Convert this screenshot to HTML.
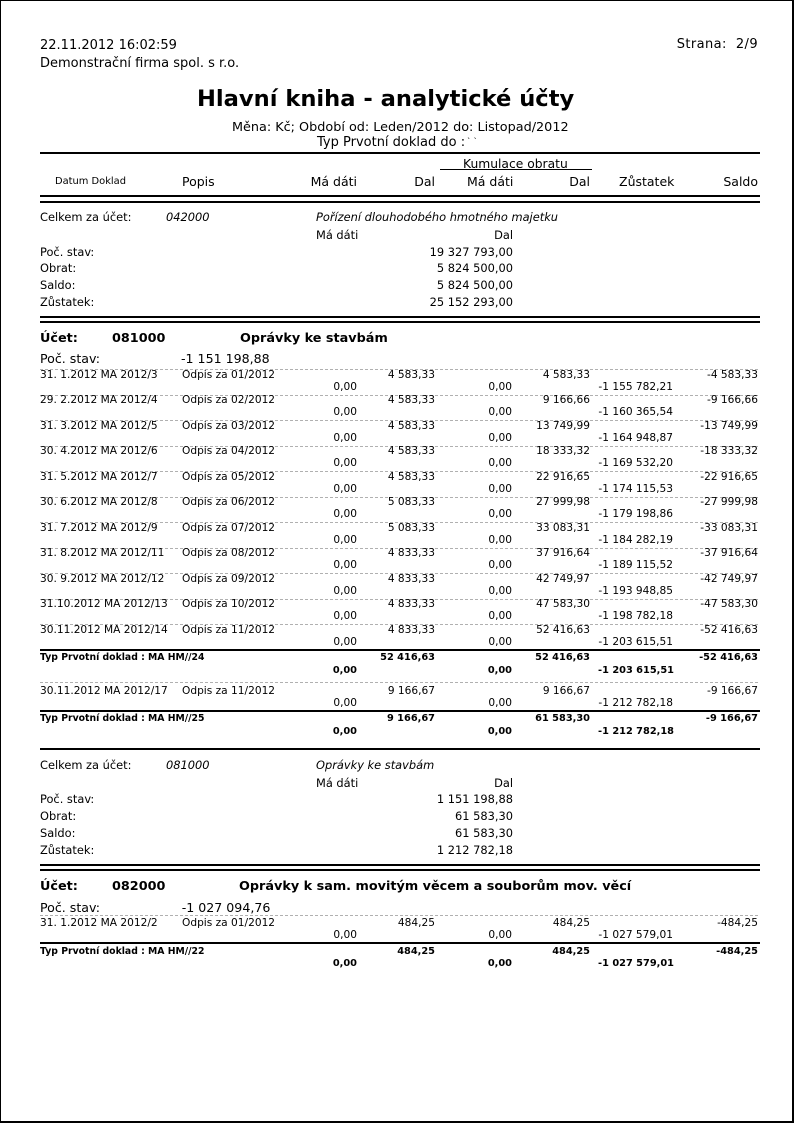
<!DOCTYPE html>
<html><head><meta charset="utf-8">
<style>
*{margin:0;padding:0;box-sizing:border-box}
html,body{width:794px;height:1123px;background:#fff;overflow:hidden}
body{position:relative;font-family:"DejaVu Sans","Liberation Sans",sans-serif;color:#000}
.frame{position:absolute;left:0;top:0;width:794px;height:1123px;border-left:1px solid #000;border-top:1px solid #000;border-right:2px solid #000;border-bottom:2px solid #000}
.a{position:absolute;white-space:pre}
.h13{font-size:13px;line-height:16px;height:16px}
.tt{font-size:22.6px;font-weight:bold;line-height:28px;height:28px}
.hd{font-size:12.5px;line-height:15px;height:15px}
.sm{font-size:11.4px;line-height:14px;height:14px}
.it{font-style:italic}
.ac{font-size:12.8px;font-weight:bold;line-height:16px;height:16px}
.ps{font-size:12.6px;line-height:16px;height:16px}
.hl{position:absolute;left:40px;width:720px;height:2px;background:#000}
.dl{position:absolute;left:40px;width:720px;height:1px;background:repeating-linear-gradient(to right,#b0b0b0 0 3px,transparent 3px 5px)}
.row{position:absolute;left:0;width:794px;height:26px}
.row .a{font-size:10.6px;line-height:13px;height:13px}
.row .l2{top:12.3px}
.row .l1{top:0}
.trow{position:absolute;left:0;width:794px;height:26px}
.trow .a{font-size:9.8px;font-weight:bold;line-height:12px;height:12px}
.trow .lbl{font-size:9.3px}
.trow .l2{top:12.5px}
.trow .l1{top:0}
</style></head><body>
<div class="frame"></div>

<div class="a h13" style="left:40px;top:37.5px">22.11.2012 16:02:59</div>
<div class="a h13" style="left:40px;top:56.3px">Demonstrační firma spol. s r.o.</div>
<div class="a h13" style="right:36px;top:37px;letter-spacing:0.4px">Strana:  2/9</div>
<div class="a tt" style="left:197px;top:85px">Hlavní kniha - analytické účty</div>
<div class="a h13" style="left:232px;top:120px;font-size:12.8px">Měna: Kč; Období od: Leden/2012 do: Listopad/2012</div>
<div class="a h13" style="left:317px;top:135px">Typ Prvotní doklad do :</div>
<div class="a" style="left:467px;top:137px;font-size:8px;line-height:9px">` `</div>

<div class="hl" style="top:152px"></div>
<div class="a" style="left:463px;top:156.5px;font-size:12.3px;line-height:15px">Kumulace obratu</div>
<div style="position:absolute;left:440px;top:169px;width:152px;height:1px;background:#000"></div>
<div class="a" style="left:55px;top:176px;font-size:9.9px;line-height:12px">Datum Doklad</div>
<div class="a hd" style="left:182px;top:174.2px">Popis</div>
<div class="a hd" style="right:437px;top:174.2px">Má dáti</div>
<div class="a hd" style="right:359px;top:174.2px">Dal</div>
<div class="a hd" style="left:467px;top:174.2px">Má dáti</div>
<div class="a hd" style="right:204px;top:174.2px">Dal</div>
<div class="a hd" style="left:619px;top:174.2px">Zůstatek</div>
<div class="a hd" style="right:36px;top:174.2px">Saldo</div>
<div class="hl" style="top:195px"></div>
<div class="hl" style="top:201px"></div>

<!-- Celkem 042000 -->
<div class="a sm" style="left:40px;top:210px">Celkem za účet:</div>
<div class="a sm it" style="left:166px;top:210px">042000</div>
<div class="a sm it" style="left:316px;top:210px">Pořízení dlouhodobého hmotného majetku</div>
<div class="a sm" style="left:316px;top:228px">Má dáti</div>
<div class="a sm" style="right:281px;top:228px">Dal</div>
<div class="a sm" style="left:40px;top:244.7px">Poč. stav:</div>
<div class="a sm" style="right:281px;top:244.7px">19 327 793,00</div>
<div class="a sm" style="left:40px;top:261.3px">Obrat:</div>
<div class="a sm" style="right:281px;top:261.3px">5 824 500,00</div>
<div class="a sm" style="left:40px;top:278px">Saldo:</div>
<div class="a sm" style="right:281px;top:278px">5 824 500,00</div>
<div class="a sm" style="left:40px;top:294.5px">Zůstatek:</div>
<div class="a sm" style="right:281px;top:294.5px">25 152 293,00</div>
<div class="hl" style="top:316px"></div>
<div class="hl" style="top:321px"></div>

<!-- Account 081000 -->
<div class="a ac" style="left:40px;top:331.3px">Účet:</div>
<div class="a ac" style="left:112px;top:331.3px">081000</div>
<div class="a ac" style="left:240px;top:331.3px">Oprávky ke stavbám</div>
<div class="a ps" style="left:40px;top:351.3px">Poč. stav:</div>
<div class="a ps" style="left:181px;top:351.3px">-1 151 198,88</div>

<div class="dl" style="top:369px"></div>
<div class="dl" style="top:395px"></div>
<div class="dl" style="top:420px"></div>
<div class="dl" style="top:446px"></div>
<div class="dl" style="top:471px"></div>
<div class="dl" style="top:497px"></div>
<div class="dl" style="top:522px"></div>
<div class="dl" style="top:548px"></div>
<div class="dl" style="top:573px"></div>
<div class="dl" style="top:599px"></div>
<div class="dl" style="top:624px"></div>

<div class="row" style="top:368.5px">
<div class="a l1" style="left:40px">31. 1.2012 MA 2012/3</div><div class="a l1" style="left:182px">Odpis za 01/2012</div>
<div class="a l1" style="right:359px">4 583,33</div><div class="a l1" style="right:204px">4 583,33</div><div class="a l1" style="right:36px">-4 583,33</div>
<div class="a l2" style="right:437px">0,00</div><div class="a l2" style="right:282px">0,00</div><div class="a l2" style="right:121px">-1 155 782,21</div>
</div>
<div class="row" style="top:394px">
<div class="a l1" style="left:40px">29. 2.2012 MA 2012/4</div><div class="a l1" style="left:182px">Odpis za 02/2012</div>
<div class="a l1" style="right:359px">4 583,33</div><div class="a l1" style="right:204px">9 166,66</div><div class="a l1" style="right:36px">-9 166,66</div>
<div class="a l2" style="right:437px">0,00</div><div class="a l2" style="right:282px">0,00</div><div class="a l2" style="right:121px">-1 160 365,54</div>
</div>
<div class="row" style="top:419.5px">
<div class="a l1" style="left:40px">31. 3.2012 MA 2012/5</div><div class="a l1" style="left:182px">Odpis za 03/2012</div>
<div class="a l1" style="right:359px">4 583,33</div><div class="a l1" style="right:204px">13 749,99</div><div class="a l1" style="right:36px">-13 749,99</div>
<div class="a l2" style="right:437px">0,00</div><div class="a l2" style="right:282px">0,00</div><div class="a l2" style="right:121px">-1 164 948,87</div>
</div>
<div class="row" style="top:445px">
<div class="a l1" style="left:40px">30. 4.2012 MA 2012/6</div><div class="a l1" style="left:182px">Odpis za 04/2012</div>
<div class="a l1" style="right:359px">4 583,33</div><div class="a l1" style="right:204px">18 333,32</div><div class="a l1" style="right:36px">-18 333,32</div>
<div class="a l2" style="right:437px">0,00</div><div class="a l2" style="right:282px">0,00</div><div class="a l2" style="right:121px">-1 169 532,20</div>
</div>
<div class="row" style="top:470.5px">
<div class="a l1" style="left:40px">31. 5.2012 MA 2012/7</div><div class="a l1" style="left:182px">Odpis za 05/2012</div>
<div class="a l1" style="right:359px">4 583,33</div><div class="a l1" style="right:204px">22 916,65</div><div class="a l1" style="right:36px">-22 916,65</div>
<div class="a l2" style="right:437px">0,00</div><div class="a l2" style="right:282px">0,00</div><div class="a l2" style="right:121px">-1 174 115,53</div>
</div>
<div class="row" style="top:496px">
<div class="a l1" style="left:40px">30. 6.2012 MA 2012/8</div><div class="a l1" style="left:182px">Odpis za 06/2012</div>
<div class="a l1" style="right:359px">5 083,33</div><div class="a l1" style="right:204px">27 999,98</div><div class="a l1" style="right:36px">-27 999,98</div>
<div class="a l2" style="right:437px">0,00</div><div class="a l2" style="right:282px">0,00</div><div class="a l2" style="right:121px">-1 179 198,86</div>
</div>
<div class="row" style="top:521.5px">
<div class="a l1" style="left:40px">31. 7.2012 MA 2012/9</div><div class="a l1" style="left:182px">Odpis za 07/2012</div>
<div class="a l1" style="right:359px">5 083,33</div><div class="a l1" style="right:204px">33 083,31</div><div class="a l1" style="right:36px">-33 083,31</div>
<div class="a l2" style="right:437px">0,00</div><div class="a l2" style="right:282px">0,00</div><div class="a l2" style="right:121px">-1 184 282,19</div>
</div>
<div class="row" style="top:547px">
<div class="a l1" style="left:40px">31. 8.2012 MA 2012/11</div><div class="a l1" style="left:182px">Odpis za 08/2012</div>
<div class="a l1" style="right:359px">4 833,33</div><div class="a l1" style="right:204px">37 916,64</div><div class="a l1" style="right:36px">-37 916,64</div>
<div class="a l2" style="right:437px">0,00</div><div class="a l2" style="right:282px">0,00</div><div class="a l2" style="right:121px">-1 189 115,52</div>
</div>
<div class="row" style="top:572.5px">
<div class="a l1" style="left:40px">30. 9.2012 MA 2012/12</div><div class="a l1" style="left:182px">Odpis za 09/2012</div>
<div class="a l1" style="right:359px">4 833,33</div><div class="a l1" style="right:204px">42 749,97</div><div class="a l1" style="right:36px">-42 749,97</div>
<div class="a l2" style="right:437px">0,00</div><div class="a l2" style="right:282px">0,00</div><div class="a l2" style="right:121px">-1 193 948,85</div>
</div>
<div class="row" style="top:598px">
<div class="a l1" style="left:40px">31.10.2012 MA 2012/13</div><div class="a l1" style="left:182px">Odpis za 10/2012</div>
<div class="a l1" style="right:359px">4 833,33</div><div class="a l1" style="right:204px">47 583,30</div><div class="a l1" style="right:36px">-47 583,30</div>
<div class="a l2" style="right:437px">0,00</div><div class="a l2" style="right:282px">0,00</div><div class="a l2" style="right:121px">-1 198 782,18</div>
</div>
<div class="row" style="top:623.5px">
<div class="a l1" style="left:40px">30.11.2012 MA 2012/14</div><div class="a l1" style="left:182px">Odpis za 11/2012</div>
<div class="a l1" style="right:359px">4 833,33</div><div class="a l1" style="right:204px">52 416,63</div><div class="a l1" style="right:36px">-52 416,63</div>
<div class="a l2" style="right:437px">0,00</div><div class="a l2" style="right:282px">0,00</div><div class="a l2" style="right:121px">-1 203 615,51</div>
</div>

<div class="hl" style="top:649px"></div>
<div class="trow" style="top:652.3px">
<div class="a l1 lbl" style="left:40px">Typ Prvotní doklad : MA HM//24</div>
<div class="a l1" style="right:359px">52 416,63</div><div class="a l1" style="right:204px">52 416,63</div><div class="a l1" style="right:36px">-52 416,63</div>
<div class="a l2" style="right:437px">0,00</div><div class="a l2" style="right:282px">0,00</div><div class="a l2" style="right:120px">-1 203 615,51</div>
</div>

<div class="dl" style="top:682px"></div>
<div class="row" style="top:685.2px">
<div class="a l1" style="left:40px">30.11.2012 MA 2012/17</div><div class="a l1" style="left:182px">Odpis za 11/2012</div>
<div class="a l1" style="right:359px">9 166,67</div><div class="a l1" style="right:204px">9 166,67</div><div class="a l1" style="right:36px">-9 166,67</div>
<div class="a l2" style="right:437px">0,00</div><div class="a l2" style="right:282px">0,00</div><div class="a l2" style="right:121px">-1 212 782,18</div>
</div>

<div class="hl" style="top:710px"></div>
<div class="trow" style="top:713.3px">
<div class="a l1 lbl" style="left:40px">Typ Prvotní doklad : MA HM//25</div>
<div class="a l1" style="right:359px">9 166,67</div><div class="a l1" style="right:204px">61 583,30</div><div class="a l1" style="right:36px">-9 166,67</div>
<div class="a l2" style="right:437px">0,00</div><div class="a l2" style="right:282px">0,00</div><div class="a l2" style="right:120px">-1 212 782,18</div>
</div>

<div class="hl" style="top:748px"></div>

<!-- Celkem 081000 -->
<div class="a sm" style="left:40px;top:758px">Celkem za účet:</div>
<div class="a sm it" style="left:166px;top:758px">081000</div>
<div class="a sm it" style="left:316px;top:758px">Oprávky ke stavbám</div>
<div class="a sm" style="left:316px;top:775.7px">Má dáti</div>
<div class="a sm" style="right:281px;top:775.7px">Dal</div>
<div class="a sm" style="left:40px;top:792.3px">Poč. stav:</div>
<div class="a sm" style="right:281px;top:792.3px">1 151 198,88</div>
<div class="a sm" style="left:40px;top:809px">Obrat:</div>
<div class="a sm" style="right:281px;top:809px">61 583,30</div>
<div class="a sm" style="left:40px;top:826px">Saldo:</div>
<div class="a sm" style="right:281px;top:826px">61 583,30</div>
<div class="a sm" style="left:40px;top:843px">Zůstatek:</div>
<div class="a sm" style="right:281px;top:843px">1 212 782,18</div>
<div class="hl" style="top:864px"></div>
<div class="hl" style="top:869px"></div>

<!-- Account 082000 -->
<div class="a ac" style="left:40px;top:879.3px">Účet:</div>
<div class="a ac" style="left:112px;top:879.3px">082000</div>
<div class="a ac" style="left:239px;top:879.3px">Oprávky k sam. movitým věcem a souborům mov. věcí</div>
<div class="a ps" style="left:40px;top:900.3px">Poč. stav:</div>
<div class="a ps" style="left:181.7px;top:900.3px">-1 027 094,76</div>

<div class="dl" style="top:915px"></div>
<div class="row" style="top:916.8px">
<div class="a l1" style="left:40px">31. 1.2012 MA 2012/2</div><div class="a l1" style="left:182px">Odpis za 01/2012</div>
<div class="a l1" style="right:359px">484,25</div><div class="a l1" style="right:204px">484,25</div><div class="a l1" style="right:36px">-484,25</div>
<div class="a l2" style="right:437px">0,00</div><div class="a l2" style="right:282px">0,00</div><div class="a l2" style="right:121px">-1 027 579,01</div>
</div>

<div class="hl" style="top:942px"></div>
<div class="trow" style="top:945.7px">
<div class="a l1 lbl" style="left:40px">Typ Prvotní doklad : MA HM//22</div>
<div class="a l1" style="right:359px">484,25</div><div class="a l1" style="right:204px">484,25</div><div class="a l1" style="right:36px">-484,25</div>
<div class="a l2" style="right:437px">0,00</div><div class="a l2" style="right:282px">0,00</div><div class="a l2" style="right:120px">-1 027 579,01</div>
</div>

</body></html>
